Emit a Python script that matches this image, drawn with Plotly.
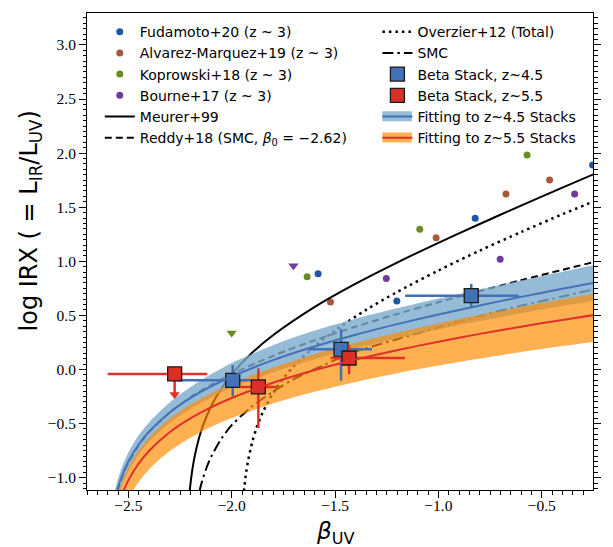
import plotly.graph_objects as go

# ---------------- literature points (z~3) ----------------
fud_beta = [-1.582, -1.201, -0.822, -0.254]
fud_irx = [0.885, 0.632, 1.398, 1.890]
alv_beta = [-1.522, -1.011, -0.673, -0.462]
alv_irx = [0.623, 1.217, 1.623, 1.752]
kop_beta = [-1.635, -1.090, -0.571]
kop_irx = [0.857, 1.296, 1.982]
kop_lim_beta = [-2.000]
kop_lim_irx = [0.337]
bou_beta = [-1.252, -0.701, -0.341]
bou_irx = [0.841, 1.019, 1.623]
bou_lim_beta = [-1.701]
bou_lim_irx = [0.959]

# ---------------- beta stacks ----------------
s45_beta = [-1.995, -1.471, -0.841]
s45_irx = [-0.100, 0.186, 0.682]
s45_beta_lo = [0.27, 0.16, 0.32]
s45_beta_hi = [0.09, 0.15, 0.23]
s45_irx_lo = [0.15, 0.29, 0.11]
s45_irx_hi = [0.14, 0.19, 0.11]

s55_beta = [-2.276, -1.871, -1.432]
s55_irx = [-0.041, -0.161, 0.106]
s55_beta_lo = [0.324, 0.09, 0.09]
s55_beta_hi = [0.158, 0.09, 0.27]
s55_irx_lo = [0.19, 0.38, 0.15]
s55_irx_hi = [0.0, 0.17, 0.12]
s55_upper_limit = [True, False, False]

# ---------------- model curves ----------------
meurer_beta = [-2.203, -2.20, -2.19, -2.18, -2.16, -2.14, -2.10, -2.05, -2.00, -1.90, -1.80,
               -1.60, -1.40, -1.20, -1.00, -0.80, -0.60, -0.40, -0.25]
meurer_irx = [-1.120, -1.066, -0.921, -0.811, -0.647, -0.524, -0.342, -0.176, -0.046, 0.156, 0.316,
              0.576, 0.793, 0.988, 1.171, 1.345, 1.515, 1.681, 1.804]

reddy_beta = [-2.552, -2.55, -2.54, -2.52, -2.50, -2.45, -2.40, -2.30, -2.20, -2.10, -2.00, -1.80,
              -1.60, -1.40, -1.20, -1.00, -0.80, -0.60, -0.40, -0.25]
reddy_irx = [-1.125, -1.111, -1.051, -0.951, -0.867, -0.705, -0.582, -0.398, -0.257, -0.142, -0.043, 0.126,
             0.269, 0.396, 0.513, 0.622, 0.725, 0.825, 0.921, 0.992]

overzier_beta = [-1.941, -1.93, -1.92, -1.90, -1.88, -1.85, -1.80, -1.75, -1.70, -1.60, -1.50,
                 -1.35, -1.20, -1.00, -0.80, -0.60, -0.40, -0.25]
overzier_irx = [-1.124, -0.952, -0.837, -0.667, -0.541, -0.397, -0.219, -0.083, 0.030, 0.212, 0.361,
                0.551, 0.716, 0.915, 1.099, 1.270, 1.435, 1.552]

smc_beta = [-2.156, -2.15, -2.14, -2.12, -2.10, -2.05, -2.00, -1.90, -1.80, -1.70, -1.55,
            -1.40, -1.20, -1.00, -0.80, -0.60, -0.40, -0.25]
smc_irx = [-1.127, -1.080, -1.012, -0.899, -0.809, -0.640, -0.515, -0.340, -0.205, -0.090, 0.045,
           0.165, 0.280, 0.390, 0.495, 0.590, 0.675, 0.740]

fit45_beta = [-2.555, -2.55, -2.53, -2.50, -2.45, -2.40, -2.30, -2.20, -2.10, -2.00, -1.80,
              -1.60, -1.40, -1.20, -1.00, -0.80, -0.60, -0.40, -0.25]
fit45_irx = [-1.126, -1.092, -0.980, -0.851, -0.693, -0.575, -0.397, -0.264, -0.157, -0.066, 0.086,
             0.212, 0.321, 0.419, 0.508, 0.592, 0.671, 0.746, 0.801]
band45_hi_beta = [-2.566, -2.55, -2.53, -2.50, -2.45, -2.40, -2.30, -2.20, -2.10, -2.00, -1.80,
                  -1.60, -1.40, -1.20, -1.00, -0.80, -0.60, -0.40, -0.25]
band45_hi_irx = [-1.127, -1.012, -0.899, -0.769, -0.609, -0.489, -0.305, -0.165, -0.045, 0.060, 0.225,
                 0.360, 0.470, 0.565, 0.655, 0.740, 0.822, 0.903, 0.964]
band45_lo_beta = [-2.541, -2.52, -2.50, -2.45, -2.40, -2.30, -2.20, -2.10, -2.00, -1.80,
                  -1.60, -1.40, -1.20, -1.00, -0.80, -0.60, -0.40, -0.25]
band45_lo_irx = [-1.130, -1.025, -0.943, -0.787, -0.669, -0.494, -0.365, -0.260, -0.172, -0.026,
                 0.093, 0.196, 0.287, 0.370, 0.447, 0.519, 0.587, 0.636]

fit55_beta = [-2.525, -2.52, -2.50, -2.45, -2.40, -2.30, -2.20, -2.10, -2.00, -1.80,
              -1.60, -1.40, -1.20, -1.00, -0.80, -0.60, -0.40, -0.25]
fit55_irx = [-1.129, -1.107, -1.025, -0.869, -0.753, -0.580, -0.452, -0.350, -0.264, -0.122,
             -0.007, 0.092, 0.178, 0.257, 0.329, 0.396, 0.458, 0.503]
band55_hi_beta = [-2.546, -2.54, -2.52, -2.50, -2.45, -2.40, -2.30, -2.20, -2.10, -2.00, -1.80,
                  -1.60, -1.40, -1.20, -1.00, -0.80, -0.60, -0.40, -0.25]
band55_hi_irx = [-1.121, -1.087, -0.988, -0.906, -0.749, -0.630, -0.454, -0.324, -0.219, -0.129, 0.019,
                 0.141, 0.246, 0.340, 0.425, 0.505, 0.579, 0.650, 0.701]
band55_lo_beta = [-2.478, -2.46, -2.44, -2.40, -2.35, -2.30, -2.20, -2.10, -2.00, -1.80,
                  -1.60, -1.40, -1.20, -1.00, -0.80, -0.60, -0.40, -0.25]
band55_lo_irx = [-1.121, -1.068, -1.015, -0.925, -0.833, -0.756, -0.632, -0.532, -0.449, -0.314,
                 -0.206, -0.115, -0.035, 0.036, 0.101, 0.161, 0.216, 0.255]

x_range = [-2.70, -0.252]
y_range = [-1.114, 3.295]

# ---------------- styles ----------------
C_FUD = "#1f56a8"
C_ALV = "#a9593b"
C_KOP = "#6b8b23"
C_BOU = "#6c3d9c"
C_S45 = "#4371b5"
C_S55 = "#d92f28"
C_BAND45 = "rgba(123,170,205,0.8)"
C_BAND55 = "rgba(255,140,0,0.68)"
C_FIT45 = "#4472b8"
C_FIT55 = "#e0302a"

W, H = 613, 547
ML, MR, MT, MB = 87, 12, 12, 57
PW, PH = W - ML - MR, H - MT - MB

def px_x(p):
    return (p - ML) / PW

def px_y(p):
    return 1 - (p - MT) / PH

fig = go.Figure()

def curve(x, y, name, dash, width=2, legend="legend"):
    fig.add_trace(go.Scatter(x=x, y=y, mode="lines", name=name, legend=legend,
                             line=dict(color="black", width=width, dash=dash, shape="spline", smoothing=0.8)))

for bx, by, nm, col in [(fud_beta, fud_irx, "Fudamoto+20 (z ~ 3)", C_FUD),
                        (alv_beta, alv_irx, "Alvarez-Marquez+19 (z ~ 3)", C_ALV),
                        (kop_beta, kop_irx, "Koprowski+18 (z ~ 3)", C_KOP),
                        (bou_beta, bou_irx, "Bourne+17 (z ~ 3)", C_BOU)]:
    fig.add_trace(go.Scatter(x=bx, y=by, mode="markers", name=nm, legend="legend",
                             marker=dict(color=col, size=7, symbol="circle")))

curve(meurer_beta, meurer_irx, "Meurer+99", "solid")
curve(reddy_beta, reddy_irx, "Reddy+18 (SMC, <i>β</i><sub>0</sub> = −2.62)", "7px,4px")
curve(overzier_beta, overzier_irx, "Overzier+12 (Total)", "2.5px,4px", width=2.5, legend="legend2")
curve(smc_beta, smc_irx, "SMC", "11px,4px,2.5px,4px", legend="legend2")

fig.add_trace(go.Scatter(x=kop_lim_beta, y=kop_lim_irx, mode="markers", showlegend=False,
                         marker=dict(color=C_KOP, size=9, symbol="triangle-down")))
fig.add_trace(go.Scatter(x=bou_lim_beta, y=bou_lim_irx, mode="markers", showlegend=False,
                         marker=dict(color=C_BOU, size=9, symbol="triangle-down")))

# uncertainty bands of the fits
fig.add_trace(go.Scatter(x=band45_lo_beta, y=band45_lo_irx, mode="lines", showlegend=False,
                         line=dict(width=0, shape="spline", smoothing=0.8)))
fig.add_trace(go.Scatter(x=band45_hi_beta, y=band45_hi_irx, mode="lines", showlegend=False,
                         fill="tonexty", fillcolor=C_BAND45,
                         line=dict(width=0, shape="spline", smoothing=0.8)))
fig.add_trace(go.Scatter(x=band55_lo_beta, y=band55_lo_irx, mode="lines", showlegend=False,
                         line=dict(width=0, shape="spline", smoothing=0.8)))
fig.add_trace(go.Scatter(x=band55_hi_beta, y=band55_hi_irx, mode="lines", showlegend=False,
                         fill="tonexty", fillcolor=C_BAND55,
                         line=dict(width=0, shape="spline", smoothing=0.8)))

# stacks
fig.add_trace(go.Scatter(
    x=s45_beta, y=s45_irx, mode="markers", name="Beta Stack, z~4.5", legend="legend2",
    marker=dict(symbol="square", size=14, color=C_S45, line=dict(color="#1a1a1a", width=1.3)),
    error_x=dict(type="data", symmetric=False, array=s45_beta_hi, arrayminus=s45_beta_lo,
                 color=C_S45, thickness=2.5, width=0),
    error_y=dict(type="data", symmetric=False, array=s45_irx_hi, arrayminus=s45_irx_lo,
                 color=C_S45, thickness=2.5, width=0)))

lim_x = [b for b, f in zip(s55_beta, s55_upper_limit) if f]
lim_y = [v - lo for v, lo, f in zip(s55_irx, s55_irx_lo, s55_upper_limit) if f]
fig.add_trace(go.Scatter(x=lim_x, y=lim_y, mode="markers", showlegend=False,
                         marker=dict(symbol="triangle-down", size=9, color=C_FIT55)))
fig.add_trace(go.Scatter(
    x=s55_beta, y=s55_irx, mode="markers", name="Beta Stack, z~5.5", legend="legend2",
    marker=dict(symbol="square", size=14, color=C_S55, line=dict(color="#1a1a1a", width=1.3)),
    error_x=dict(type="data", symmetric=False, array=s55_beta_hi, arrayminus=s55_beta_lo,
                 color=C_FIT55, thickness=2.5, width=0),
    error_y=dict(type="data", symmetric=False, array=s55_irx_hi, arrayminus=s55_irx_lo,
                 color=C_FIT55, thickness=2.5, width=0)))

# fit lines (also provide the legend entries)
fig.add_trace(go.Scatter(x=fit45_beta, y=fit45_irx, mode="lines", name="Fitting to z~4.5 Stacks",
                         legend="legend2",
                         line=dict(color=C_FIT45, width=2, shape="spline", smoothing=0.8)))
fig.add_trace(go.Scatter(x=fit55_beta, y=fit55_irx, mode="lines", name="Fitting to z~5.5 Stacks",
                         legend="legend2",
                         line=dict(color=C_FIT55, width=2, shape="spline", smoothing=0.8)))

# legend geometry (pixels)
LEG_TOP = 15.1
ITEM_H = 21.2
LEG1_LEFT = 100
LEG2_LEFT = 382

leg_common = dict(yanchor="top", xanchor="left", y=px_y(LEG_TOP), bgcolor="rgba(0,0,0,0)",
                  borderwidth=0, traceorder="normal", tracegroupgap=0,
                  font=dict(family="DejaVu Sans", size=14, color="black"))

# translucent band swatches behind the two "Fitting" legend lines
shapes = []
for i, col in [(4, C_BAND45), (5, C_BAND55)]:
    cy = LEG_TOP + 5 + ITEM_H * (i + 0.5)
    shapes.append(dict(type="rect", xref="paper", yref="paper", layer="above",
                       x0=px_x(LEG2_LEFT + 5), x1=px_x(LEG2_LEFT + 35),
                       y0=px_y(cy + 5), y1=px_y(cy - 5),
                       fillcolor=col, line=dict(width=0)))

tickfont = dict(family="Liberation Serif", size=15.5, color="black")

fig.update_layout(
    width=W, height=H,
    margin=dict(l=ML, r=MR, t=MT, b=MB),
    plot_bgcolor="white", paper_bgcolor="white",
    showlegend=True,
    legend=dict(x=px_x(LEG1_LEFT), **leg_common),
    legend2=dict(x=px_x(LEG2_LEFT), **leg_common),
    shapes=shapes,
    xaxis=dict(range=x_range, showgrid=False, zeroline=False, showline=True, linecolor="black",
               linewidth=1, mirror=True, ticks="outside", ticklen=7, tickcolor="black",
               tick0=0, dtick=0.5, tickformat=".1f", tickfont=tickfont, ticklabelstandoff=-6,
               minor=dict(ticks="outside", ticklen=4, tickcolor="black", tick0=0, dtick=0.05, showgrid=False)),
    yaxis=dict(range=y_range, showgrid=False, zeroline=False, showline=True, linecolor="black",
               linewidth=1, mirror="ticks", ticks="outside", ticklen=7, tickcolor="black",
               tick0=0, dtick=0.5, tickformat=".1f", tickfont=tickfont,
               minor=dict(ticks="outside", ticklen=3.5, tickcolor="black", tick0=0, dtick=0.05, showgrid=False)),
    annotations=[
        dict(text="<i>β</i><sub>UV</sub>", xref="paper", yref="paper", x=px_x(339), y=px_y(533),
             xanchor="center", yanchor="middle", showarrow=False,
             font=dict(family="DejaVu Sans", size=23, color="black")),
        dict(text="log IRX ( = L<sub>IR</sub>/L<sub>UV</sub>)", xref="paper", yref="paper",
             x=px_x(30), y=px_y(220), xanchor="center", yanchor="middle", textangle=-90, showarrow=False,
             font=dict(family="DejaVu Sans", size=24, color="black")),
    ],
)

fig.write_html("out.html", config={"displayModeBar": False},
               post_script="document.body.style.margin='0px';")
